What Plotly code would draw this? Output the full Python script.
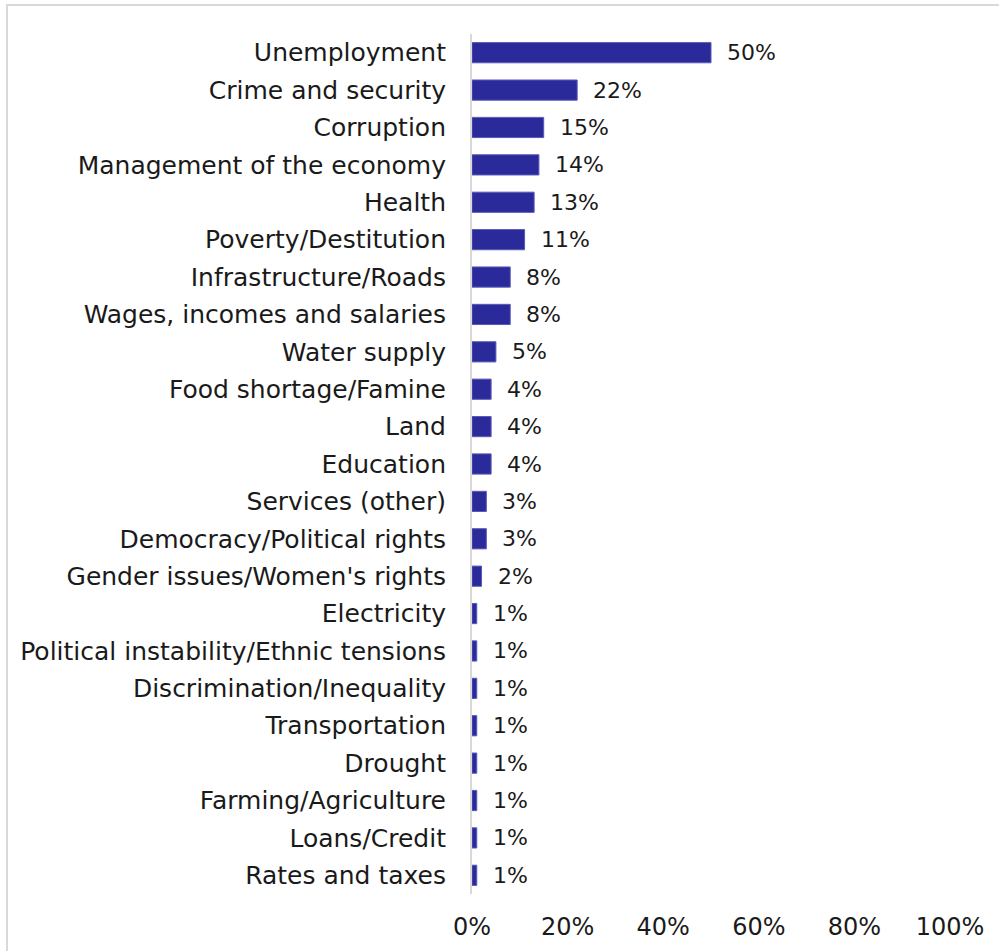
import plotly.graph_objects as go

# Most important problems facing the country (% of respondents)
categories = [
    "Unemployment", "Crime and security", "Corruption", "Management of the economy",
    "Health", "Poverty/Destitution", "Infrastructure/Roads", "Wages, incomes and salaries",
    "Water supply", "Food shortage/Famine", "Land", "Education", "Services (other)",
    "Democracy/Political rights", "Gender issues/Women's rights", "Electricity",
    "Political instability/Ethnic tensions", "Discrimination/Inequality", "Transportation",
    "Drought", "Farming/Agriculture", "Loans/Credit", "Rates and taxes",
]
values = [50, 22, 15, 14, 13, 11, 8, 8, 5, 4, 4, 4, 3, 3, 2, 1, 1, 1, 1, 1, 1, 1, 1]
x_ticks = [0, 20, 40, 60, 80, 100]

FONT = "DejaVu Sans"
BAR = "#2a2a9a"
INK = "#1a1a1a"

fig = go.Figure(
    go.Bar(
        x=values,
        y=categories,
        orientation="h",
        marker=dict(color=BAR, line=dict(color="#5a5ab8", width=1)),
        width=0.54,
        hoverinfo="skip",
    )
)

for c, v in zip(categories, values):
    fig.add_annotation(
        x=v, y=c, text=f"{v}%", showarrow=False, xanchor="left", xshift=14,
        font=dict(family=FONT, size=22, color=INK),
    )

fig.update_layout(
    width=999, height=951,
    margin=dict(l=472, r=49, t=34, b=57, autoexpand=False),
    paper_bgcolor="white", plot_bgcolor="white",
    showlegend=False,
    font=dict(family=FONT, size=25, color=INK),
    xaxis=dict(
        range=[0, 100], tickvals=x_ticks, ticktext=[f"{t}%" for t in x_ticks],
        showgrid=False, zeroline=False, showline=False, ticks="",
        tickfont=dict(size=24), ticklabelstandoff=16, automargin=False,
        fixedrange=True,
    ),
    yaxis=dict(
        autorange="reversed", showgrid=False, zeroline=False,
        showline=True, linecolor="#d9d9d9", linewidth=2, ticks="",
        tickfont=dict(size=25), ticklabelstandoff=19, automargin=False,
        fixedrange=True,
    ),
    shapes=[
        dict(type="rect", xref="paper", yref="paper",
             x0=-465 / 478, x1=1.2, y0=-0.2, y1=1 + 29 / 860,
             line=dict(color="#d9d9d9", width=2), fillcolor="rgba(0,0,0,0)",
             layer="below"),
    ],
)

fig.write_html("out.html")
